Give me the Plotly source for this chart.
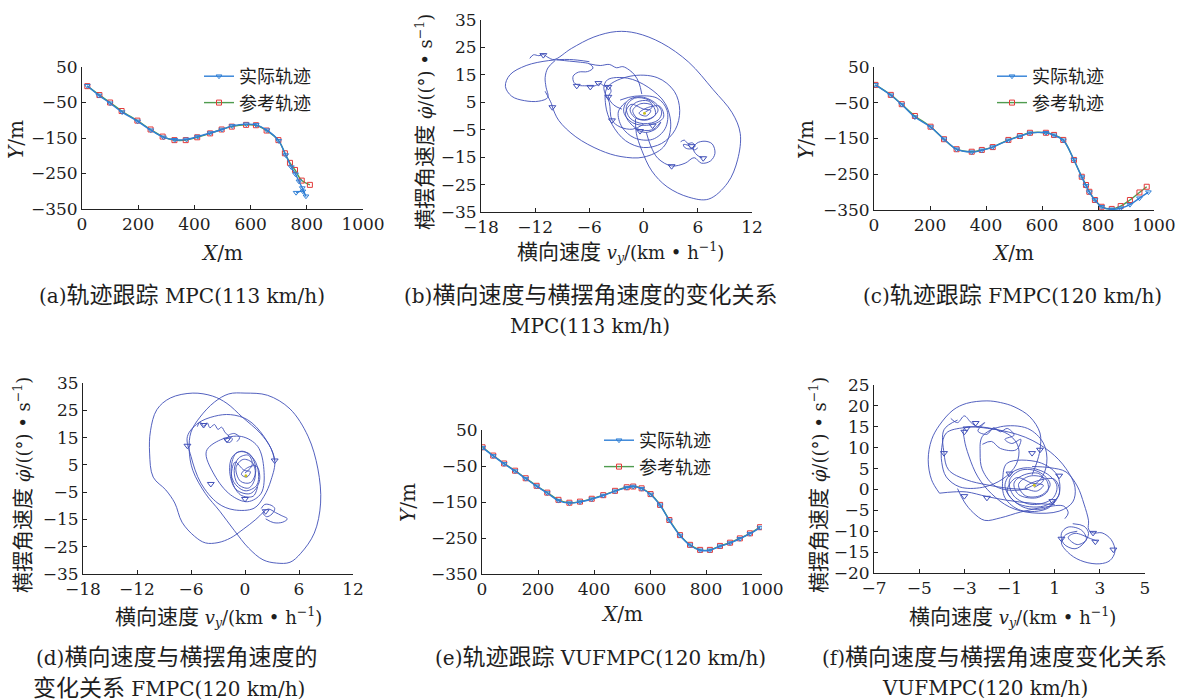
import re
import plotly.graph_objects as go

W, H = 1194, 700

# ---------------- data ----------------
# (a) MPC 113 km/h trajectory tracking
a_ref = [(19, -4), (62, -29), (100, -50), (141, -74), (197, -101), (244, -126), (287, -146),
         (329, -156), (369, -156), (410, -148), (456, -137), (497, -126), (533, -118), (584, -113),
         (619, -114), (657, -129), (699, -156), (722, -193), (740, -220), (758, -240), (782, -270),
         (811, -282)]
a_act = [(19, -3), (60, -30), (100, -52), (143, -77), (198, -103), (245, -128), (290, -148),
         (330, -155), (372, -154), (412, -146), (457, -136), (498, -126), (535, -116), (585, -111),
         (620, -113), (658, -128), (700, -158), (725, -198), (745, -232), (760, -252), (772, -272),
         (784, -291), (797, -314), (786, -300), (762, -304)]

# (c) FMPC 120 km/h trajectory tracking
c_ref = [(5, 0), (60, -28), (99, -54), (146, -87), (202, -117), (250, -152), (295, -180), (349, -187),
         (385, -182), (424, -174), (480, -154), (521, -143), (557, -134), (614, -134), (643, -140),
         (676, -154), (714, -210), (742, -257), (757, -280), (769, -299), (789, -322), (813, -341),
         (849, -347), (881, -339), (914, -322), (948, -301), (974, -285)]
c_act = [(5, 0), (60, -29), (99, -55), (146, -90), (202, -118), (250, -152), (295, -180), (349, -188),
         (385, -183), (424, -174), (480, -155), (521, -144), (557, -135), (614, -134), (643, -141),
         (676, -155), (714, -210), (742, -258), (757, -282), (769, -300), (789, -322), (813, -341),
         (849, -348), (881, -345), (914, -335), (948, -317), (980, -300)]

# (e) VUFMPC 120 km/h trajectory tracking
e_ref = [(2, 2), (40, -21), (79, -43), (118, -63), (156, -84), (195, -105), (233, -124), (273, -144),
         (312, -152), (350, -149), (392, -141), (433, -131), (475, -119), (517, -109), (540, -107),
         (570, -112), (602, -128), (636, -158), (669, -200), (707, -242), (743, -269), (779, -283),
         (814, -283), (850, -272), (886, -263), (921, -251), (957, -237), (993, -220)]
e_act = [(2, 1), (40, -22), (79, -44), (118, -64), (156, -85), (195, -106), (233, -125), (273, -146),
         (312, -153), (350, -150), (392, -142), (433, -132), (475, -120), (517, -110), (540, -107),
         (570, -113), (602, -129), (636, -159), (669, -201), (707, -243), (743, -270), (779, -284),
         (814, -284), (850, -273), (886, -264), (921, -252), (957, -238), (993, -221)]

# (b) lateral velocity vs yaw rate, MPC
b_outer = [(-12.6, 21.0), (-12.2, 22.3), (-11.6, 22.0), (-11.1, 22.4), (-10.6, 21.4), (-9.9, 20.6),
           (-8.0, 24.6), (-5.5, 28.8), (-3.0, 30.8), (-0.8, 30.2), (2.0, 26.6), (5.0, 19.6),
           (7.7, 9.6), (9.8, 1.2), (10.7, -6.4), (10.4, -16.0), (9.3, -24.4), (7.2, -30.3),
           (5.0, -29.6), (2.6, -25.8), (0.9, -20.0), (-0.2, -12.5), (-0.8, -6.4), (-0.9, -1.0)]
b_lobe = [(-6.0, 19.8), (-8.2, 20.6), (-10.5, 20.2), (-13.0, 18.4), (-14.8, 15.0), (-15.3, 10.8),
          (-14.6, 7.2), (-13.2, 5.6), (-11.6, 5.4), (-10.6, 6.8), (-10.8, 10.5), (-10.9, 14.0),
          (-10.6, 17.5), (-9.8, 20.2)]
b_mid = [(-10.9, 9.0), (-10.2, 4.5), (-10.1, 3.3), (-9.4, -1.6), (-7.5, -7.6), (-4.8, -12.5),
         (-2.5, -14.8), (0.0, -15.0), (2.2, -11.3), (3.0, -4.0), (2.4, 4.5), (0.5, 10.5),
         (-1.8, 13.8), (-4.0, 13.2), (-4.4, 10.0), (-3.8, 5.0), (-3.5, -1.5), (-2.6, -4.0),
         (-1.2, -4.8), (0.0, -3.0)]
b_upper = [(-9.6, 20.5), (-8.2, 20.0), (-7.0, 19.6), (-6.0, 19.0), (-5.6, 17.5), (-6.2, 16.2),
           (-7.2, 16.0), (-7.8, 14.5), (-7.7, 12.2), (-7.2, 11.2), (-6.3, 11.0), (-5.5, 10.9),
           (-4.8, 11.8), (-4.4, 11.0), (-3.8, 10.6), (-3.6, 9.0), (-3.9, 7.0), (-3.3, 4.0), (-2.4, 2.5)]
b_wiggle = [(-6.0, 19.0), (-4.8, 18.4), (-3.8, 18.8), (-3.0, 17.6), (-2.3, 18.0), (-1.6, 16.8),
            (-1.0, 15.0), (-0.5, 12.0), (-0.2, 8.0)]
b_lower = [(0.3, -6.0), (0.8, -11.0), (1.6, -15.5), (3.1, -18.2), (4.6, -17.2), (5.6, -15.2),
           (6.4, -17.2), (7.4, -16.4), (7.9, -13.6), (7.6, -10.2), (6.8, -9.2), (5.9, -9.9),
           (5.5, -12.0), (5.9, -14.2), (6.5, -15.3)]
b_knot = [(4.1, -9.4), (4.5, -8.8), (4.9, -10.0), (5.4, -9.8), (5.7, -11.0), (5.2, -12.0),
          (4.6, -11.6), (4.4, -10.4), (5.0, -10.8), (5.6, -12.4), (6.0, -11.6)]
b_ring = [(-2.6, 5.8), (-1.0, 7.2), (1.5, 6.5), (2.6, 2.0), (2.4, -4.5), (1.0, -8.5), (-1.0, -8.0),
          (-2.4, -4.0), (-2.8, 1.5), (-2.0, 5.0)]
b_ring2 = [(-4.0, 10.5), (-1.5, 14.5), (1.5, 14.0), (3.4, 9.0), (4.0, 2.0), (3.5, -5.0), (2.0, -10.0),
           (0.0, -11.5), (-2.0, -9.0), (-3.5, -3.0), (-4.2, 4.0), (-4.0, 10.5)]
b_core = [(0.2, 1.5), (1.0, 3.5), (0.5, 5.5), (-0.8, 5.0), (-1.5, 2.5), (-1.0, -0.5), (0.3, -1.5),
          (1.3, 0.5), (1.0, 3.8), (-0.3, 4.5), (-1.2, 2.0), (-0.6, -1.0), (0.8, -0.8), (1.6, 2.2),
          (0.6, 5.8), (-1.0, 6.5), (-1.9, 3.5), (-1.5, -0.8), (0.0, -2.8), (1.6, -1.5), (2.0, 1.5),
          (1.2, 5.0), (-0.4, 7.0), (-1.8, 5.5), (-2.2, 1.5), (-1.2, -2.5), (0.8, -3.2), (2.2, -0.5),
          (1.8, 3.5), (0.4, 3.0), (-0.5, 1.0), (0.3, 0.0), (0.8, 2.0), (0.0, 2.5), (-1.4, 4.2),
          (-2.0, 0.5), (-0.8, -4.5), (1.0, -5.0), (1.9, -2.2), (1.4, -4.6), (0.2, -6.0), (-0.9, -4.8)]
b_marks = [(-11.1, 22.2), (-10.1, 3.2), (-7.4, 11.0), (-5.9, 10.6), (-5.0, 12.0), (-3.9, 10.6),
           (-3.5, -1.6), (3.1, -18.3), (6.6, -15.4), (1.0, -3.5), (-0.4, -5.5), (5.3, -11.0), (-3.9, 7.0)]

# (d) lateral velocity vs yaw rate, FMPC
d_left = [(3.3, 6.5), (2.9, 11.0), (1.7, 16.6), (-0.3, 22.5), (-2.0, 27.5), (-3.6, 30.2), (-5.8, 31.3),
          (-8.3, 29.5), (-9.8, 25.2), (-10.5, 17.5), (-10.6, 9.3), (-10.2, 0.5), (-8.8, -4.2),
          (-7.8, -9.0), (-7.0, -16.0), (-5.6, -21.2), (-4.4, -23.6), (-3.0, -23.5), (-1.6, -21.8),
          (-0.2, -18.6), (1.2, -15.0), (2.2, -11.8)]
d_right = [(-5.0, 22.5), (-3.4, 28.0), (-1.8, 31.0), (0.0, 31.3), (2.5, 30.5), (5.0, 25.5), (7.0, 15.5),
           (8.1, 3.5), (8.4, -9.0), (7.7, -20.0), (6.2, -27.4), (5.0, -30.7), (3.5, -31.0),
           (2.0, -29.8), (0.4, -25.5), (-1.2, -19.0), (-2.8, -12.0), (-4.4, -5.5), (-5.8, 3.0),
           (-6.2, 10.5), (-6.0, 17.0), (-5.0, 22.5)]
d_in1 = [(-6.4, 15.4), (-6.0, 8.1), (-4.9, -1.7), (-3.0, -9.1), (-1.2, -11.5), (1.0, -10.9),
         (2.1, -6.6), (2.9, -0.5), (3.3, 6.8), (2.1, 15.4), (0.3, 21.5), (-1.6, 23.4), (-3.4, 22.8),
         (-5.2, 20.3), (-6.4, 15.4)]
d_in2 = [(-4.3, 9.9), (-3.4, 1.3), (-1.6, -6.0), (0.3, -8.5), (1.8, -5.4), (2.1, 3.3), (1.4, 11.8),
         (-0.4, 15.4), (-2.7, 14.2), (-4.3, 9.9)]
d_top = [(-5.3, 19.0), (-5.0, 20.8), (-4.6, 19.2), (-4.2, 20.4), (-3.9, 18.6), (-3.4, 19.8),
         (-3.0, 18.0), (-2.6, 18.8), (-2.2, 16.8), (-1.8, 15.5), (-2.2, 14.0), (-1.7, 13.2),
         (-1.4, 14.6), (-1.9, 15.6), (-1.2, 16.5), (-0.6, 15.0), (-0.9, 13.5)]
d_knot = [(1.8, -11.0), (2.2, -9.5), (2.9, -9.8), (3.3, -11.0), (3.0, -13.0), (2.4, -14.0), (2.0, -12.5),
          (2.6, -11.2), (3.4, -12.5), (4.0, -13.5), (4.7, -14.8), (4.2, -16.0), (3.2, -16.2), (2.3, -14.8)]
d_core = [(0.0, 2.0), (0.8, 5.0), (0.4, 8.5), (-0.7, 7.5), (-1.2, 3.0), (-0.8, -2.0), (0.4, -3.5),
          (1.1, 0.0), (0.9, 5.5), (-0.2, 7.0), (-1.0, 4.0), (-0.5, -1.0), (0.6, -1.5), (1.2, 3.0),
          (0.5, 9.0), (-0.9, 9.5), (-1.5, 5.0), (-1.3, -1.0), (0.0, -4.5), (1.3, -2.5), (1.5, 2.0),
          (1.0, 7.0), (-0.3, 10.0), (-1.4, 8.0), (-1.7, 2.5), (-1.0, -4.0), (0.6, -5.5), (1.6, -1.0),
          (1.3, 4.5), (0.3, 4.0), (-0.4, 1.5), (0.2, 0.5), (0.6, 2.5), (-0.1, 3.0), (-1.1, 6.0),
          (-1.5, 0.0), (-0.5, -6.0), (0.9, -6.5), (1.4, -3.0)]
d_marks = [(-4.6, 19.6), (-2.0, 14.2), (-6.4, 12.0), (-3.8, -2.0), (3.3, 6.6), (2.3, -12.0), (0.0, -7.5)]

# (f) lateral velocity vs yaw rate, VUFMPC
f_outer = [(-4.1, -0.9), (-4.45, 2.3), (-4.6, 7.1), (-4.45, 11.9), (-4.1, 15.4), (-3.5, 19.0),
           (-2.9, 20.6), (-2.0, 21.2), (-1.4, 20.8), (-0.8, 19.8), (-0.1, 17.4), (0.35, 13.5),
           (0.35, 9.5), (0.2, 6.3), (0.0, 3.5)]
f_base = [(-4.1, -0.9), (-3.5, -0.6), (-2.9, -0.6), (-2.0, -1.7), (-1.1, -2.6), (0.0, -3.3), (1.0, -3.6)]
f_low = [(-3.3, 0.2), (-3.0, -3.0), (-2.6, -5.6), (-2.1, -7.4), (-1.4, -6.8), (-0.5, -5.4), (0.6, -4.2),
         (1.4, -4.0), (1.6, -5.6), (1.45, -7.0)]
f_diag = [(0.0, 5.5), (0.8, 5.2), (1.5, 4.2), (2.0, 0.8), (2.3, -3.5), (2.5, -7.5), (2.5, -9.5),
          (2.7, -10.4), (3.1, -10.4), (3.5, -12.0), (3.67, -14.8), (3.45, -17.0), (3.0, -17.8),
          (2.3, -17.3), (1.7, -15.6), (1.3, -12.8), (1.5, -10.8), (2.0, -10.0)]
f_knot = [(1.8, -8.2), (2.3, -8.8), (2.5, -10.5), (2.3, -12.8), (1.9, -14.2), (1.4, -13.0), (1.3, -10.5),
          (1.6, -9.0), (2.2, -9.8), (2.4, -12.0), (2.0, -13.2), (1.6, -11.5), (1.9, -10.5), (2.6, -11.8),
          (2.9, -12.4)]
f_upper = [(-3.6, 17.0), (-3.3, 16.0), (-3.0, 17.6), (-2.7, 16.0), (-2.4, 15.0), (-2.1, 16.0),
           (-2.4, 14.0), (-2.0, 13.2), (-1.7, 14.8), (-1.4, 13.8), (-1.1, 14.6), (-0.8, 13.0),
           (-1.2, 12.0), (-0.9, 11.0), (-0.5, 12.0), (-0.7, 9.5), (-1.4, 9.8), (-1.8, 11.5), (-2.2, 10.8)]
f_e1 = [(-2.3, 8.7), (-2.2, 12.7), (-1.4, 15.0), (-0.2, 14.6), (0.5, 11.1), (0.65, 6.3), (0.35, 2.3),
        (-0.5, -0.1), (-1.6, 0.7), (-2.2, 4.7), (-2.3, 8.7)]
f_e2 = [(-3.3, 16.6), (-3.9, 14.3), (-3.9, 8.7), (-3.7, 4.7), (-2.9, 2.3), (-2.0, 1.1), (-1.1, 0.3),
        (-0.2, 0.0)]
f_e3 = [(-3.8, 13.5), (-3.0, 14.8), (-2.0, 14.8), (-1.0, 13.0), (-0.6, 10.0), (-0.7, 6.0), (-1.3, 2.5),
        (-2.2, 0.5), (-3.2, 0.6), (-3.8, 3.0), (-4.0, 6.5), (-4.0, 10.0), (-3.8, 13.5)]
f_big = [(-3.0, 14.6), (-1.8, 14.5), (-0.3, 12.5), (0.8, 9.0), (1.5, 5.0), (1.9, 0.5), (1.8, -3.0),
         (1.2, -5.2), (0.0, -5.6), (-1.0, -4.2), (-1.8, -1.0), (-2.4, 3.0), (-2.8, 8.0), (-3.0, 12.0),
         (-3.0, 14.6)]
f_ring = [(-1.1, 6.3), (0.3, 6.5), (1.1, 3.5), (1.2, -1.0), (0.7, -4.5), (-0.5, -5.0), (-1.2, -2.0),
          (-1.3, 2.5), (-1.1, 6.3)]
f_core = [(0.1, 0.5), (0.5, 2.2), (0.3, 3.8), (-0.4, 3.4), (-0.8, 1.5), (-0.6, -1.2), (0.2, -2.0),
          (0.7, -0.3), (0.6, 2.5), (-0.1, 3.2), (-0.6, 1.2), (-0.3, -1.5), (0.4, -1.4), (0.8, 1.2),
          (0.3, 4.2), (-0.5, 4.6), (-1.0, 2.2), (-0.8, -1.6), (0.0, -3.6), (0.9, -2.2), (1.1, 0.8),
          (0.7, 3.6), (-0.2, 5.2), (-0.9, 4.0), (-1.2, 0.8), (-0.7, -3.2), (0.5, -4.0), (1.2, -1.2),
          (1.0, 2.4), (0.2, 2.0), (-0.3, 0.5), (0.2, -0.4), (0.5, 1.0), (0.0, 1.5), (-0.7, 2.8),
          (-1.1, -0.4), (-0.4, -4.2), (0.6, -4.5), (1.0, -2.8)]
f_marks = [(-3.9, 8.7), (-2.9, 14.6), (-2.5, 15.9), (-3.0, 13.8), (0.35, 9.5), (0.0, 8.7), (-1.0, 3.8),
           (1.2, 3.3), (-2.0, -2.0), (-3.0, -1.6), (0.9, -2.8), (2.8, -12.5), (3.6, -14.4),
           (1.3, -11.8), (2.7, -10.4)]

# axis ticks
traj_xticks = [0, 200, 400, 600, 800, 1000]
traj_yticks = [50, -50, -150, -250, -350]
phase_xticks_bd = [-18, -12, -6, 0, 6, 12]
phase_yticks_bd = [35, 25, 15, 5, -5, -15, -25, -35]
phase_xticks_f = [-7, -5, -3, -1, 1, 3, 5]
phase_yticks_f = [25, 20, 15, 10, 5, 0, -5, -10, -15, -20]

# ---------------- styling ----------------
FONT = "DejaVu Serif, Noto Sans CJK SC, serif"
TXT = "#1e1e1e"
BLUE = "#2f7fd6"
GREEN = "#4f9c4f"
RED = "#e23a3a"
PHASE = "#3f4fb8"

# pixel boxes (left, right, top, bottom)
boxes = {1: (82, 363, 67, 209), 2: (481, 752, 20, 212), 3: (874, 1154, 67, 210),
         4: (83, 353, 383, 574), 5: (482, 762, 430, 574), 6: (874, 1145, 385, 573)}

fig = go.Figure()


def ax(n):
    return ("x" if n == 1 else f"x{n}"), ("y" if n == 1 else f"y{n}")


def xs(p):
    return [q[0] for q in p]


def ys(p):
    return [q[1] for q in p]


def traj(n, ref, act, leg):
    xa, ya = ax(n)
    fig.add_trace(go.Scatter(x=xs(ref), y=ys(ref), mode="lines+markers", name="参考轨迹",
                             line=dict(color=GREEN, width=1.4, shape="spline"),
                             marker=dict(symbol="square-open", size=5, color=RED, line=dict(width=1)),
                             xaxis=xa, yaxis=ya, legend=leg, legendrank=2))
    fig.add_trace(go.Scatter(x=xs(act), y=ys(act), mode="lines+markers", name="实际轨迹",
                             line=dict(color=BLUE, width=1.4, shape="spline"),
                             marker=dict(symbol="triangle-down-open", size=5, color=BLUE, line=dict(width=1)),
                             xaxis=xa, yaxis=ya, legend=leg, legendrank=1))


def phase(n, segs, marks):
    xa, ya = ax(n)
    X, Y = [], []
    for s in segs:
        X += xs(s) + [None]
        Y += ys(s) + [None]
    fig.add_trace(go.Scatter(x=X, y=Y, mode="lines", showlegend=False,
                             line=dict(color=PHASE, width=0.9, shape="spline", smoothing=1.0),
                             xaxis=xa, yaxis=ya))
    fig.add_trace(go.Scatter(x=xs(marks), y=ys(marks), mode="markers", showlegend=False,
                             marker=dict(symbol="triangle-down-open", size=6, color=PHASE, line=dict(width=1)),
                             xaxis=xa, yaxis=ya))
    fig.add_trace(go.Scatter(x=[0.1], y=[1.0], mode="markers", showlegend=False,
                             marker=dict(symbol="circle", size=3, color="#c8c020"),
                             xaxis=xa, yaxis=ya))


traj(1, a_ref, a_act, "legend")
phase(2, [b_outer, b_lobe, b_mid, b_upper, b_wiggle, b_lower, b_knot, b_ring, b_ring2, b_core], b_marks)
traj(3, c_ref, c_act, "legend2")
phase(4, [d_left, d_right, d_in1, d_in2, d_top, d_knot, d_core], d_marks)
traj(5, e_ref, e_act, "legend3")
phase(6, [f_outer, f_base, f_low, f_diag, f_knot, f_upper, f_e1, f_e2, f_e3, f_big, f_ring, f_core], f_marks)

ranges = {1: ([0, 1000], [-350, 50], traj_xticks, traj_yticks),
          2: ([-18, 12], [-35, 35], phase_xticks_bd, phase_yticks_bd),
          3: ([0, 1000], [-350, 50], traj_xticks, traj_yticks),
          4: ([-18, 12], [-35, 35], phase_xticks_bd, phase_yticks_bd),
          5: ([0, 1000], [-350, 50], traj_xticks, traj_yticks),
          6: ([-7, 5], [-20, 25], phase_xticks_f, phase_yticks_f)}

layout = {}
for n, (l, r, t, b) in boxes.items():
    xr, yr, xt, yt = ranges[n]
    xa, ya = ax(n)
    common = dict(showline=True, linecolor="#222", linewidth=1, ticks="inside", ticklen=4,
                  tickcolor="#222", showgrid=False, zeroline=False, automargin=False,
                  tickfont=dict(family=FONT, size=17, color=TXT))
    layout["xaxis" if n == 1 else f"xaxis{n}"] = dict(domain=[l / W, r / W], range=xr, tickvals=xt,
                                                      anchor=ya, **common)
    layout["yaxis" if n == 1 else f"yaxis{n}"] = dict(domain=[1 - b / H, 1 - t / H], range=yr, tickvals=yt,
                                                      anchor=xa, **common)


def legend_at(px, py):
    return dict(x=px / W, y=1 - py / H, xanchor="left", yanchor="top", bgcolor="rgba(0,0,0,0)",
                font=dict(family=FONT, size=18, color=TXT), tracegroupgap=0, itemwidth=30)


layout["legend"] = legend_at(199, 58)
layout["legend2"] = legend_at(992, 58)
layout["legend3"] = legend_at(599, 422)

ann = []


def mix(s, cjk):
    return re.sub(r"([\u3000-\u9fff\uff00-\uffef]+)",
                  lambda m: f'<span style="font-size:{cjk}px">{m.group(1)}</span>', s)


def text(px, py, s, size=20, cjk=23, angle=0):
    ann.append(dict(x=px / W, y=1 - py / H, xref="paper", yref="paper", text=mix(s, cjk), showarrow=False,
                    xanchor="center", yanchor="middle", textangle=angle,
                    font=dict(family=FONT, size=size, color=TXT)))


ytit_phase = "横摆角速度 <i>φ̇</i>/((°) • s<sup>−1</sup>)"
xtit_phase = "横向速度 <i>v<sub>y</sub></i>/(km • h<sup>−1</sup>)"

# axis titles
text(222, 253, "<i>X</i>/m", 20, 20)
text(16, 140, "<i>Y</i>/m", 20, 20, -90)
text(620, 252, xtit_phase, 18, 21)
text(425, 122, ytit_phase, 18, 21, -90)
text(1013, 253, "<i>X</i>/m", 20, 20)
text(806, 140, "<i>Y</i>/m", 20, 20, -90)
text(218, 617, xtit_phase, 18, 21)
text(22, 485, ytit_phase, 18, 21, -90)
text(622, 614, "<i>X</i>/m", 20, 20)
text(408, 503, "<i>Y</i>/m", 20, 20, -90)
text(1012, 617, xtit_phase, 18, 21)
text(818, 485, ytit_phase, 18, 21, -90)

# captions
text(182, 295, "(a)轨迹跟踪 MPC(113 km/h)")
text(590, 295, "(b)横向速度与横摆角速度的变化关系")
text(590, 326, "MPC(113 km/h)")
text(1012, 295, "(c)轨迹跟踪 FMPC(120 km/h)")
text(176, 657, "(d)横向速度与横摆角速度的")
text(169, 688, "变化关系 FMPC(120 km/h)")
text(600, 657, "(e)轨迹跟踪 VUFMPC(120 km/h)")
text(994, 657, "(f)横向速度与横摆角速度变化关系")
text(985, 688, "VUFMPC(120 km/h)")

fig.update_layout(width=W, height=H, margin=dict(l=0, r=0, t=0, b=0, pad=0, autoexpand=False),
                  paper_bgcolor="white", plot_bgcolor="white", annotations=ann, **layout)

fig.write_html("out.html",
               post_script="document.body.style.margin='0px';"
                           "document.body.style.overflow='hidden';"
                           "document.documentElement.style.overflow='hidden';")
